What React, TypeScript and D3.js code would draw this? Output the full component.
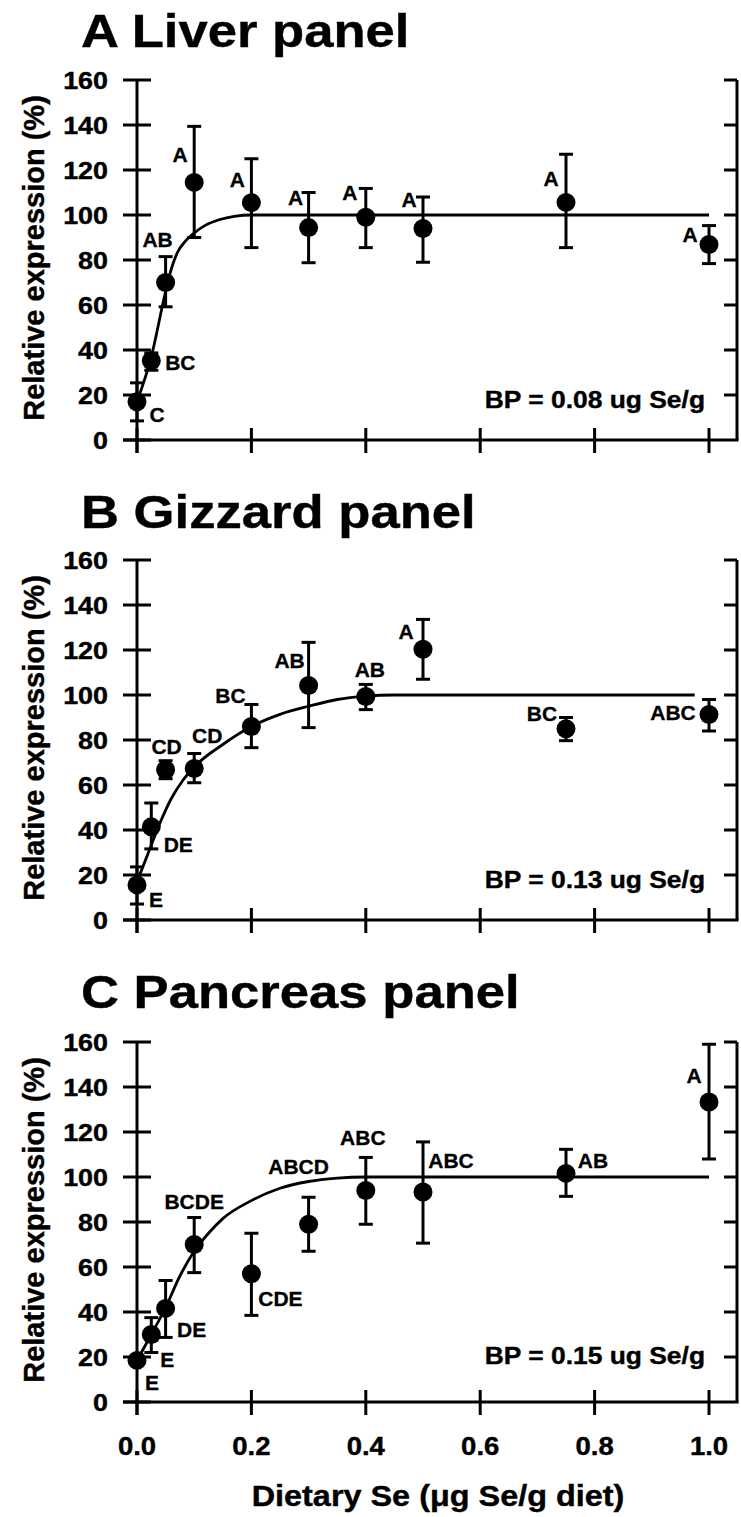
import React from "react";
import * as d3 from "d3";

const W = 741;
const H = 1517;
const FONT = "'Liberation Sans', Arial, Helvetica, sans-serif";

// dietary Se levels (ug Se/g diet)
const seLevels = [0, 0.025, 0.05, 0.1, 0.2, 0.3, 0.4, 0.5, 0.75, 1.0];
const yTicks = [0, 20, 40, 60, 80, 100, 120, 140, 160];
const xTicks = [0, 0.2, 0.4, 0.6, 0.8, 1.0];

// A liver
const liverMean = [17, 35.2, 70, 114.5, 105.5, 94.4, 99, 94, 105.6, 86.9];
const liverUpper = [25.4, 38.7, 81.5, 139.4, 125, 110, 111.8, 108, 127, 95.3];
const liverLower = [8.5, 31, 59.2, 90, 85.5, 78.8, 85.5, 79, 85.5, 78.4];
const liverLetters = ["C", "BC", "AB", "A", "A", "A", "A", "A", "A", "A"];
const liverFitX = [0, 0.025, 0.05, 0.06, 0.07, 0.085, 0.1, 0.12, 0.145, 0.17, 0.2, 1.0];
const liverFitY = [17, 37, 66, 76, 83, 88.5, 92, 95.5, 98, 99.4, 100, 100];

// B gizzard
const gizzardMean = [15.6, 41.4, 66.8, 67.3, 86, 104.2, 99.3, 120.3, 85, 91.3];
const gizzardUpper = [23.6, 52, 70.8, 74, 95.8, 123.4, 104.7, 133.6, 90, 98];
const gizzardLower = [7.1, 31.6, 62.8, 61, 76.6, 85.5, 93.5, 107, 79.7, 84];
const gizzardLetters = ["E", "DE", "CD", "CD", "BC", "AB", "AB", "A", "BC", "ABC"];
const gizzardFitX = [0, 0.02, 0.04, 0.06, 0.08, 0.1, 0.15, 0.2, 0.25, 0.3, 0.35, 0.4, 0.45, 0.975];
const gizzardFitY = [17, 30, 43, 54, 62, 68, 78, 86, 91.4, 95, 98, 99.5, 100, 100];

// C pancreas
const pancreasMean = [18.5, 30, 41.6, 70, 57, 79, 94, 93.3, 101.6, 133.3];
const pancreasUpper = [20, 37.5, 54, 82, 75, 91, 108.7, 115.6, 112.3, 159];
const pancreasLower = [17, 22, 28.7, 57.5, 38.5, 67, 79, 70.6, 91.4, 108];
const pancreasLetters = ["E", "E", "DE", "BCDE", "CDE", "ABCD", "ABC", "ABC", "AB", "A"];
const pancreasFitX = [0, 0.025, 0.05, 0.075, 0.1, 0.125, 0.15, 0.2, 0.25, 0.3, 0.35, 0.4, 1.0];
const pancreasFitY = [18.5, 30, 42, 56, 67, 75, 81.5, 89.5, 95, 98, 99.5, 100, 100];

// letter placement (px offset of label centre from the point)
const liverLabelPos = [[20, 13], [29, 2], [-8, -43], [-14, -28], [-14, -23], [-13, -30], [-16, -25], [-14, -29], [-15, -24], [-19, -10]];
const gizzardLabelPos = [[19, 15], [27, 18], [1, -23], [13, -33], [-21, -31], [-19, -25], [4, -27], [-17, -18], [-24, -15], [-36, -2]];
const pancreasLabelPos = [[15, 22], [16, 25], [26, 21], [0, -43], [29, 25], [-10, -58], [-3, -53], [28, -32], [27, -13], [-15, -27]];

const panels = [
  { title: "A Liver panel", mean: liverMean, upper: liverUpper, lower: liverLower, letters: liverLetters,
    fitX: liverFitX, fitY: liverFitY, labelPos: liverLabelPos, bp: "BP = 0.08 ug Se/g",
    top: 80, titleY: 47, bpY: 408 },
  { title: "B Gizzard panel", mean: gizzardMean, upper: gizzardUpper, lower: gizzardLower, letters: gizzardLetters,
    fitX: gizzardFitX, fitY: gizzardFitY, labelPos: gizzardLabelPos, bp: "BP = 0.13 ug Se/g",
    top: 560, titleY: 528, bpY: 888 },
  { title: "C Pancreas panel", mean: pancreasMean, upper: pancreasUpper, lower: pancreasLower, letters: pancreasLetters,
    fitX: pancreasFitX, fitY: pancreasFitY, labelPos: pancreasLabelPos, bp: "BP = 0.15 ug Se/g",
    top: 1042, titleY: 1008, bpY: 1364 },
];

const plotH = 360;
const xLeft = 137;
const xRight = 709;
const frameRight = 737;

const x = d3.scaleLinear().domain([0, 1]).range([xLeft, xRight]);

// stretched text helper, the source type is a bit wider than Arial
const SText = ({ x, y, sx = 1, size, anchor = "start", children }) => (
  <text
    transform={`translate(${x},${y}) scale(${sx},1)`}
    fontSize={size}
    fontWeight="bold"
    fontFamily={FONT}
    textAnchor={anchor}
    fill="#000"
    stroke="#000"
    strokeWidth={0.4}
  >
    {children}
  </text>
);

function Panel({ p, showX }) {
  const y = d3.scaleLinear().domain([0, 160]).range([p.top + plotH, p.top]);
  const y0 = y(0);
  const fitData = p.fitX.map((v, i) => [v, p.fitY[i]]);
  const line = d3
    .line()
    .x(d => x(d[0]))
    .y(d => y(d[1]))
    .curve(d3.curveMonotoneX);

  return (
    <g>
      <SText x={81} y={p.titleY} size={47} sx={1.12}>{p.title}</SText>

      {/* y axis label */}
      <text
        transform={`translate(44,${(y(0) + y(160)) / 2 - 2}) rotate(-90)`}
        fontSize={29}
        fontWeight="bold"
        fontFamily={FONT}
        textAnchor="middle"
        stroke="#000"
        strokeWidth={0.4}
      >
        Relative expression (%)
      </text>

      {/* axes */}
      <g stroke="#000" strokeWidth={3} fill="none">
        <line x1={xLeft} x2={xLeft} y1={y(160)} y2={y0 + 13} />
        <line x1={123} x2={frameRight + 1.5} y1={y0} y2={y0} />
        <line x1={frameRight} x2={frameRight} y1={y(160)} y2={y0} />
        {yTicks.map(t => (
          <g key={t}>
            <line x1={xLeft - 14} x2={xLeft + 14} y1={y(t)} y2={y(t)} />
            {t > 0 && <line x1={frameRight - 13} x2={frameRight} y1={y(t)} y2={y(t)} />}
          </g>
        ))}
        {xTicks.map(t => (
          <line key={t} x1={x(t)} x2={x(t)} y1={y0 - 12} y2={y0 + 13} />
        ))}
      </g>

      {yTicks.map(t => (
        <SText key={t} x={108} y={y(t) + 8.5} size={24} sx={1.12} anchor="end">{t}</SText>
      ))}
      {showX &&
        xTicks.map(t => (
          <SText key={t} x={x(t)} y={y0 + 53} size={25} sx={1.1} anchor="middle">{t.toFixed(1)}</SText>
        ))}

      {/* fitted curve */}
      <path d={line(fitData)} fill="none" stroke="#000" strokeWidth={2.8} />

      {/* error bars and means */}
      {seLevels.map((s, i) => {
        const cx = x(s);
        return (
          <g key={i}>
            <g stroke="#000" strokeWidth={3}>
              <line x1={cx} x2={cx} y1={y(p.upper[i])} y2={y(p.lower[i])} />
              <line x1={cx - 7} x2={cx + 7} y1={y(p.upper[i])} y2={y(p.upper[i])} />
              <line x1={cx - 7} x2={cx + 7} y1={y(p.lower[i])} y2={y(p.lower[i])} />
            </g>
            <circle cx={cx} cy={y(p.mean[i])} r={9.5} fill="#000" />
            <text
              x={cx + p.labelPos[i][0]}
              y={y(p.mean[i]) + p.labelPos[i][1] + 7.5}
              fontSize={21}
              fontWeight="bold"
              fontFamily={FONT}
              textAnchor="middle"
              stroke="#000"
              strokeWidth={0.3}
            >
              {p.letters[i]}
            </text>
          </g>
        );
      })}

      <SText x={705} y={p.bpY} size={24} sx={1.1} anchor="end">{p.bp}</SText>
    </g>
  );
}

export default function App() {
  return (
    <svg
      width={W}
      height={H}
      style={{ position: "absolute", left: 0, top: 0, background: "#fff" }}
    >
      <rect width={W} height={H} fill="#fff" />
      {panels.map((p, i) => (
        <Panel key={i} p={p} showX={i === panels.length - 1} />
      ))}
      <SText x={438} y={1506} size={30} sx={1.08} anchor="middle">
        Dietary Se (μg Se/g diet)
      </SText>
    </svg>
  );
}
